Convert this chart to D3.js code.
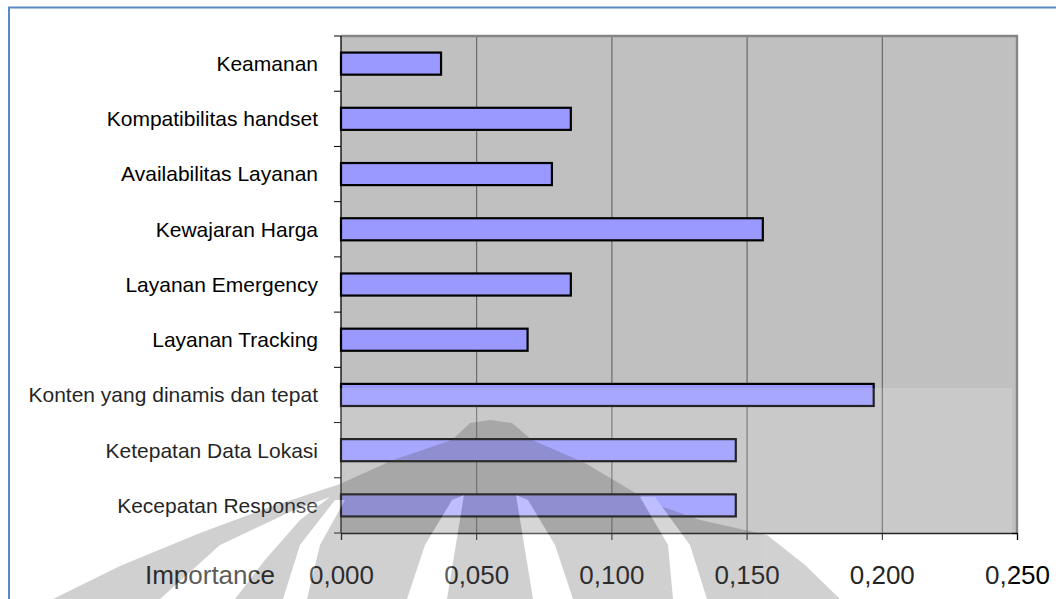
<!DOCTYPE html>
<html>
<head>
<meta charset="utf-8">
<script src="https://cdn.jsdelivr.net/npm/d3@7"></script>
<style>
  html, body { margin: 0; padding: 0; background: #ffffff; }
  svg { display: block; }
  text { font-family: "Liberation Sans", Arial, sans-serif; fill: #000; }
</style>
</head>
<body>
<svg id="chart" width="1056" height="599"></svg>
<script>
// Importance of each service attribute
const categories = [
  "Keamanan",
  "Kompatibilitas handset",
  "Availabilitas Layanan",
  "Kewajaran Harga",
  "Layanan Emergency",
  "Layanan Tracking",
  "Konten yang dinamis dan tepat",
  "Ketepatan Data Lokasi",
  "Kecepatan Response"
];
const importance = [0.037, 0.085, 0.078, 0.156, 0.085, 0.069, 0.197, 0.146, 0.146];
const xTicks = [0, 0.05, 0.10, 0.15, 0.20, 0.25];
const xTickLabels = ["0,000", "0,050", "0,100", "0,150", "0,200", "0,250"];
const axisTitle = "Importance";

const W = 1056, H = 599;
const plot = { left: 341, right: 1017, top: 36, bottom: 533 };

const svg = d3.select("#chart");

// scales
const x = d3.scaleLinear().domain([0, 0.25]).range([plot.left, plot.right]);
const y = d3.scaleBand().domain(categories).range([plot.top, plot.bottom])
  .paddingInner(0.6).paddingOuter(0.3);
const slot = d3.scaleBand().domain(categories).range([plot.top, plot.bottom]);

// plot area
svg.append("rect")
  .attr("x", plot.left).attr("y", plot.top)
  .attr("width", plot.right - plot.left).attr("height", plot.bottom - plot.top)
  .attr("fill", "#c0c0c0");

// vertical gridlines
svg.append("g").selectAll("line")
  .data(xTicks.filter(t => t > 0 && t < 0.25))
  .join("line")
  .attr("x1", d => x(d) + 0.5).attr("x2", d => x(d) + 0.5)
  .attr("y1", plot.top).attr("y2", plot.bottom)
  .attr("stroke", "#5a5a5a").attr("stroke-width", 1);

// plot frame (top and right)
svg.append("path")
  .attr("d", `M${plot.left},${plot.top} H${plot.right} V${plot.bottom}`)
  .attr("fill", "none").attr("stroke", "#858585").attr("stroke-width", 2.4);

// bars
svg.append("g").selectAll("rect")
  .data(categories)
  .join("rect")
  .attr("x", x(0))
  .attr("y", d => y(d))
  .attr("width", (d, i) => x(importance[i]) - x(0))
  .attr("height", y.bandwidth())
  .attr("fill", "#9999ff")
  .attr("stroke", "#000").attr("stroke-width", 2.2);

// category axis (ticks on slot boundaries)
const yAxis = svg.append("g");
yAxis.append("line")
  .attr("x1", plot.left).attr("x2", plot.left)
  .attr("y1", plot.top).attr("y2", plot.bottom)
  .attr("stroke", "#000").attr("stroke-width", 1.3);
const bounds = categories.map(c => slot(c)).concat([plot.bottom]);
yAxis.selectAll("line.tick")
  .data(bounds)
  .join("line").attr("class", "tick")
  .attr("x1", plot.left - 7).attr("x2", plot.left)
  .attr("y1", d => d).attr("y2", d => d)
  .attr("stroke", "#000").attr("stroke-width", 1);
yAxis.selectAll("text")
  .data(categories)
  .join("text")
  .attr("x", 318)
  .attr("y", d => slot(d) + slot.bandwidth() / 2)
  .attr("dy", "0.35em")
  .attr("text-anchor", "end")
  .attr("font-size", 21)
  .text(d => d);

// value axis
const xAxis = svg.append("g")
  .attr("transform", `translate(0,${plot.bottom})`)
  .call(d3.axisBottom(x).tickValues(xTicks).tickSize(7).tickPadding(0)
    .tickFormat((d, i) => xTickLabels[i]));
xAxis.select(".domain").attr("stroke", "#000").attr("stroke-width", 1.3);
xAxis.selectAll(".tick line").attr("stroke", "#000");
xAxis.selectAll(".tick text")
  .attr("y", 51).attr("dy", 0)
  .attr("font-size", 26)
  .attr("font-family", "Liberation Sans, Arial, sans-serif")
  .attr("fill", "#000");

svg.append("text")
  .attr("x", 275).attr("y", 584)
  .attr("text-anchor", "end")
  .attr("font-size", 26)
  .text(axisTitle);

// faint emblem printed over the lower part of the page
const mark = svg.append("g");
mark.append("rect")
  .attr("x", 10).attr("y", 388).attr("width", 1002).attr("height", H - 388)
  .attr("fill", "#ffffff").attr("opacity", 0.14);

const poly = pts => d3.line()(pts) + "Z";
const emblem = mark.append("g").attr("opacity", 0.25);
const peak = [[53,599],[120,566],[200,533],[270,507],[340,484],[393,460],[452,440],
  [470,423],[490,420],[512,423],[532,440],[585,463],[617,482],[652,503],[700,520],
  [767,535],[805,565],[840,599]];
emblem.append("path").attr("d", poly(peak)).attr("fill", "#464646");

// light arches cut into the emblem
const arches = [
  [[407,599],[447,599],[464,495],[452,500],[425,545]],
  [[573,599],[533,599],[516,495],[528,500],[555,545]],
  [[283,599],[307,599],[320,545],[345,500],[335,500],[300,545]],
  [[673,599],[707,599],[690,545],[655,497],[640,497],[668,545]],
  [[160,599],[235,599],[265,560],[300,520],[330,497],[290,512],[220,545]]
];
emblem.selectAll("path.arch")
  .data(arches)
  .join("path").attr("class", "arch")
  .attr("d", poly)
  .attr("fill", "#ffffff");

// page frame
svg.append("path")
  .attr("d", `M1056,7.5 H9 V${H}`)
  .attr("fill", "none").attr("stroke", "#5b87c4").attr("stroke-width", 2);
</script>
</body>
</html>
